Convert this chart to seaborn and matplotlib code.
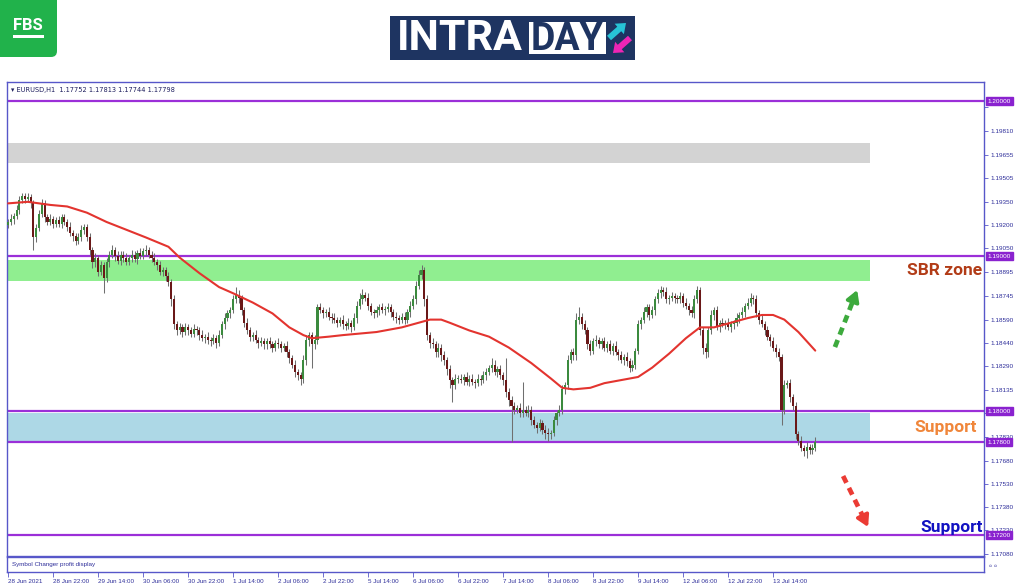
import numpy as np
import pandas as pd
import matplotlib
matplotlib.use("Agg")
import matplotlib.pyplot as plt
import matplotlib.transforms as mtransforms
from matplotlib.patches import Rectangle, FancyBboxPatch, FancyArrow
import seaborn as sns

# ---------------- data (EURUSD H1) ----------------
first_open = 1.1920
closes = [
    1.1922, 1.1924, 1.1926, 1.1930, 1.1936, 1.1939, 1.1937, 1.1938, 1.1934, 1.1912, 1.1918, 1.1927,
    1.1934, 1.1925, 1.1922, 1.1924, 1.1921, 1.1923, 1.1921, 1.1925, 1.1922, 1.1919, 1.1915, 1.1913,
    1.1910, 1.1912, 1.1917, 1.1919, 1.1912, 1.1904, 1.1896, 1.1899, 1.1890, 1.1894, 1.1886, 1.1896,
    1.1901, 1.1904, 1.1900, 1.1897, 1.1901, 1.1899, 1.1896, 1.1899, 1.1901, 1.1898, 1.1902, 1.1900,
    1.1903, 1.1904, 1.1901, 1.1899, 1.1896, 1.1894, 1.1890, 1.1891, 1.1887, 1.1883, 1.1872, 1.1856,
    1.1852, 1.1854, 1.1851, 1.1854, 1.1852, 1.1850, 1.1853, 1.1852, 1.1849, 1.1847, 1.1848, 1.1846,
    1.1845, 1.1847, 1.1844, 1.1849, 1.1856, 1.1860, 1.1863, 1.1865, 1.1872, 1.1875, 1.1873, 1.1865,
    1.1857, 1.1852, 1.1848, 1.1849, 1.1846, 1.1844, 1.1845, 1.1843, 1.1845, 1.1843, 1.1841, 1.1844,
    1.1843, 1.1841, 1.1842, 1.1838, 1.1834, 1.1830, 1.1825, 1.1823, 1.1821, 1.1833, 1.1846, 1.1849,
    1.1843, 1.1846, 1.1867, 1.1865, 1.1863, 1.1864, 1.1861, 1.1860, 1.1859, 1.1857, 1.1859, 1.1856,
    1.1855, 1.1857, 1.1854, 1.1860, 1.1868, 1.1872, 1.1875, 1.1873, 1.1868, 1.1864, 1.1863, 1.1865,
    1.1867, 1.1865, 1.1866, 1.1867, 1.1864, 1.1861, 1.1860, 1.1859, 1.1861, 1.1859, 1.1864, 1.1868,
    1.1872, 1.1881, 1.1888, 1.1891, 1.1872, 1.1849, 1.1844, 1.1843, 1.1838, 1.1841, 1.1836, 1.1833,
    1.1827, 1.1820, 1.1817, 1.1821, 1.1821, 1.1820, 1.1822, 1.1819, 1.1821, 1.1819, 1.1818, 1.1821,
    1.1820, 1.1823, 1.1825, 1.1828, 1.1830, 1.1825, 1.1827, 1.1823, 1.1820, 1.1812, 1.1807, 1.1803,
    1.1801, 1.1802, 1.1799, 1.1801, 1.1799, 1.1801, 1.1794, 1.1791, 1.1789, 1.1792, 1.1788, 1.1786,
    1.1785, 1.1786, 1.1794, 1.1799, 1.1801, 1.1814, 1.1817, 1.1833, 1.1838, 1.1836, 1.1859, 1.1861,
    1.1856, 1.1852, 1.1843, 1.1839, 1.1845, 1.1846, 1.1843, 1.1845, 1.1841, 1.1843, 1.1839, 1.1842,
    1.1838, 1.1836, 1.1833, 1.1835, 1.1832, 1.1828, 1.1830, 1.1839, 1.1856, 1.1859, 1.1864, 1.1867,
    1.1862, 1.1865, 1.1872, 1.1876, 1.1878, 1.1877, 1.1872, 1.1873, 1.1874, 1.1873, 1.1872, 1.1874,
    1.1870, 1.1868, 1.1865, 1.1863, 1.1872, 1.1878, 1.1852, 1.1841, 1.1838, 1.1852, 1.1862, 1.1865,
    1.1854, 1.1857, 1.1856, 1.1857, 1.1854, 1.1856, 1.1857, 1.1860, 1.1862, 1.1864, 1.1868, 1.1870,
    1.1873, 1.1872, 1.1863, 1.1859, 1.1856, 1.1852, 1.1848, 1.1845, 1.1841, 1.1838, 1.1835, 1.1801,
    1.1817, 1.1818, 1.1809, 1.1803, 1.1785, 1.1781, 1.1776, 1.1774, 1.1777, 1.1775, 1.1776, 1.1780,
]
upper_wick_pips = [
    2, 3, 2, 3, 3, 2, 2, 3, 2, 2, 3, 3,   3, 2, 2, 3, 2, 2, 3, 2, 2, 2, 3, 2,
    2, 3, 3, 2, 2, 3, 2, 3, 2, 3, 2, 3,   2, 3, 2, 3, 2, 2, 3, 2, 3, 2, 2, 3,
    2, 3, 2, 2, 3, 2, 3, 2, 2, 3, 2, 3,   2, 3, 2, 3, 2, 2, 3, 2, 2, 3, 2, 3,
    2, 3, 2, 3, 2, 3, 2, 2, 3, 5, 3, 2,   2, 3, 2, 2, 3, 2, 3, 2, 2, 3, 2, 2,
    3, 2, 2, 3, 2, 2, 3, 2, 2, 3, 3, 2,   2, 3, 2, 3, 2, 2, 3, 2, 3, 2, 2, 3,
    2, 3, 2, 3, 3, 4, 4, 2, 3, 2, 2, 3,   2, 3, 2, 3, 2, 2, 3, 2, 2, 3, 2, 3,
    3, 3, 3, 3, 2, 3, 2, 3, 2, 3, 2, 3,   2, 3, 2, 3, 2, 3, 2, 3, 2, 3, 2, 3,
    2, 3, 3, 2, 4, 3, 2, 3, 2, 14, 3, 3,  3, 2, 3, 18, 2, 3, 2, 3, 2, 3, 2, 3,
    3, 2, 3, 2, 3, 3, 2, 3, 2, 3, 4, 6,   2, 3, 2, 3, 2, 3, 2, 2, 3, 2, 3, 2,
    3, 2, 3, 2, 3, 2, 3, 2, 3, 2, 3, 2,   2, 3, 2, 3, 3, 2, 3, 2, 3, 2, 2, 3,
    2, 3, 2, 3, 3, 3, 2, 2, 3, 2, 3, 2,   3, 2, 3, 2, 3, 2, 2, 3, 2, 3, 2, 3,
    3, 2, 3, 2, 3, 2, 3, 2, 3, 2, 3, 2,   3, 2, 3, 2, 3, 2, 3, 2, 3, 2, 3, 3,
]
lower_wick_pips = [
    2, 2, 3, 2, 3, 2, 3, 2, 3, 8, 3, 2,   2, 3, 2, 2, 3, 2, 2, 3, 2, 3, 2, 3,
    3, 2, 2, 3, 2, 3, 4, 3, 3, 2, 10, 3,  3, 2, 3, 2, 3, 3, 2, 2, 3, 2, 3, 2,
    2, 3, 2, 3, 2, 3, 2, 3, 3, 2, 4, 3,   3, 2, 3, 2, 3, 2, 2, 3, 3, 2, 3, 3,
    3, 2, 3, 2, 2, 3, 2, 3, 2, 2, 3, 3,   3, 2, 3, 3, 2, 3, 2, 3, 3, 2, 3, 2,
    2, 3, 2, 3, 3, 2, 3, 3, 4, 3, 3, 4,   15, 3, 3, 2, 3, 2, 2, 3, 2, 3, 2, 3,
    3, 2, 3, 2, 3, 2, 3, 2, 3, 2, 3, 2,   3, 2, 3, 2, 3, 2, 3, 3, 2, 3, 2, 3,
    2, 3, 2, 3, 4, 3, 3, 2, 3, 3, 4, 3,   4, 5, 11, 3, 3, 2, 3, 2, 3, 2, 3, 2,
    3, 2, 3, 2, 3, 2, 3, 2, 3, 3, 4, 23,  3, 2, 3, 3, 2, 3, 3, 2, 3, 2, 3, 4,
    4, 3, 2, 3, 2, 3, 3, 3, 2, 3, 3, 3,   3, 2, 3, 3, 2, 3, 2, 3, 2, 3, 2, 3,
    2, 3, 2, 3, 3, 3, 2, 3, 2, 3, 2, 3,   3, 2, 3, 2, 3, 3, 2, 3, 2, 3, 2, 2,
    3, 2, 3, 2, 3, 2, 3, 4, 4, 3, 2, 3,   2, 3, 2, 3, 2, 3, 3, 2, 3, 2, 3, 2,
    2, 3, 2, 3, 2, 3, 2, 3, 2, 3, 3, 10,  3, 2, 3, 2, 3, 3, 2, 3, 4, 3, 3, 2,
]
ma_bars = [0, 7, 15, 21, 28, 35, 42, 49, 57, 61, 68, 75, 80, 87, 94, 100, 105, 108, 114, 119,
           131, 140, 146, 150, 154, 157, 164, 171, 178, 186, 193, 197, 201, 207, 212, 218, 224,
           229, 235, 241, 246, 251, 257, 263, 268, 272, 276, 281, 287]
ma_values = [1.1934, 1.1935, 1.1933, 1.1932, 1.1928, 1.1922, 1.1917, 1.1912, 1.1906, 1.1899,
             1.1889, 1.1880, 1.1876, 1.1870, 1.1863, 1.1854, 1.1849, 1.1847, 1.1848, 1.1849,
             1.1851, 1.1854, 1.1857, 1.1859, 1.1859, 1.1857, 1.1852, 1.1848, 1.1841, 1.1831,
             1.1821, 1.1815, 1.1814, 1.1815, 1.1818, 1.1820, 1.1822, 1.1828, 1.1837, 1.1847,
             1.1854, 1.1854, 1.1857, 1.1860, 1.1862, 1.1862, 1.1859, 1.1851, 1.1839]

price_ticks = [1.19960, 1.19810, 1.19655, 1.19505, 1.19350, 1.19200, 1.19050, 1.18895, 1.18745,
               1.18590, 1.18440, 1.18290, 1.18135, 1.17985, 1.17830, 1.17680, 1.17530, 1.17380,
               1.17230, 1.17080]
hidden_ticks = [1.19960, 1.17985]   # labels covered by the level boxes
level_prices = [1.20000, 1.19000, 1.18000, 1.17800, 1.17200]
level_labels = ["1.20000", "1.19000", "1.18000", "1.17800", "1.17200"]
zone_gray = (1.19600, 1.19729)
zone_green = (1.18839, 1.18974)
zone_blue = (1.17806, 1.17987)
zone_end_bar = 306.5
time_tick_bars = [0, 16, 32, 48, 64, 80, 96, 112, 128, 144, 160, 176, 192, 208, 224, 240, 256, 272]
time_labels = ["28 Jun 2021", "28 Jun 22:00", "29 Jun 14:00", "30 Jun 06:00", "30 Jun 22:00",
               "1 Jul 14:00", "2 Jul 06:00", "2 Jul 22:00", "5 Jul 14:00", "6 Jul 06:00",
               "6 Jul 22:00", "7 Jul 14:00", "8 Jul 06:00", "8 Jul 22:00", "9 Jul 14:00",
               "12 Jul 06:00", "12 Jul 22:00", "13 Jul 14:00"]
header = "\u25be EURUSD,H1  1.17752 1.17813 1.17744 1.17798"
arrow_up = ((294.0, 1.18413), (301.9, 1.18781))
arrow_down = ((296.9, 1.17581), (305.8, 1.17252))

# ---------------- build candles ----------------
pip = 0.0001
df = pd.DataFrame({"close": closes})
df["bar"] = np.arange(len(df))
df["open"] = [first_open] + closes[:-1]
df["high"] = df[["open", "close"]].max(axis=1) + np.array(upper_wick_pips) * pip
df["low"] = df[["open", "close"]].min(axis=1) - np.array(lower_wick_pips) * pip
df["up"] = df["close"] >= df["open"]

# ---------------- figure ----------------
sns.set_theme(style="white")
plt.rcParams["font.family"] = ["Liberation Sans", "DejaVu Sans"]
W, H = 1024, 587
fig = plt.figure(figsize=(W / 100, H / 100), dpi=100)
fig.patch.set_facecolor("white")

frame_c = "#5757C9"
text_c = "#2E2E9A"
lvl_c = "#9B2FD8"

ax = fig.add_axes([7 / W, 1 - 556 / H, 977 / W, 474 / H])
sub = fig.add_axes([7 / W, 1 - 572 / H, 977 / W, 15 / H])
ov = fig.add_axes([0, 0, 1, 1], zorder=-5)
ov.set_xlim(0, W)
ov.set_ylim(H, 0)
ov.axis("off")

xlim = (-0.4, 347.0)
ax.set_xlim(*xlim)
ax.set_ylim(1.17065, 1.20123)
ax.set_facecolor("white")

# zones
for (lo, hi), col in [(zone_gray, "#D3D3D3"), (zone_green, "#90EE90"), (zone_blue, "#ADD8E6")]:
    ax.add_patch(Rectangle((xlim[0], lo), zone_end_bar - xlim[0], hi - lo,
                           facecolor=col, edgecolor="none", zorder=1))

# level lines
for p in level_prices:
    ax.axhline(p, color=lvl_c, lw=1.6, zorder=2)

# candles
ax.vlines(df["bar"], df["low"], df["high"], color="#6f6f6f", lw=0.75, zorder=3)
body_bottom = df[["open", "close"]].min(axis=1)
body_h = (df["close"] - df["open"]).abs().clip(lower=0.00003)
ax.bar(df["bar"], body_h, bottom=body_bottom, width=0.75,
       color=np.where(df["up"], "#3B8A3E", "#6A1818"), linewidth=0, zorder=4)

# moving average
sns.lineplot(x=ma_bars, y=ma_values, ax=ax, color="#E3342F", linewidth=1.5, zorder=5)

# arrows (dashed shaft + chevron head)
for (s, e), col in [(arrow_up, "#3DAA3D"), (arrow_down, "#EB3B34")]:
    sx, sy = s
    ex, ey = e
    mx, my = sx + (ex - sx) * 0.80, sy + (ey - sy) * 0.80
    ax.plot([sx, mx], [sy, my], color=col, lw=3.4, dashes=(1.6, 1.2), solid_capstyle="butt",
            zorder=6)
    ax.annotate("", xy=(ex, ey), xytext=(mx, my),
                arrowprops=dict(arrowstyle="-|>,head_length=0.55,head_width=0.32", color=col,
                                lw=2.6, shrinkA=0, shrinkB=0), zorder=6)

# annotations text
ax.text(333.0, 1.18910, "SBR zone", color="#B23C17", fontsize=12.5, fontweight="bold",
        family="Roboto", ha="center", va="center", zorder=7)
ax.text(333.5, 1.17897, "Support", color="#F0863A", fontsize=12.5, fontweight="bold",
        family="Roboto", ha="center", va="center", zorder=7)
ax.text(335.6, 1.17252, "Support", color="#1212C2", fontsize=12.5, fontweight="bold",
        family="Roboto", ha="center", va="center", zorder=7)

ax.text(0.004, 0.984, header, transform=ax.transAxes, fontsize=4.8, color="#1f1f5f",
        ha="left", va="center", family=["DejaVu Sans"])

# axes styling
ax.set_xticks([])
ax.yaxis.tick_right()
ax.set_yticks(price_ticks)
ax.set_yticklabels(["" if v in hidden_ticks else f"{v:.5f}" for v in price_ticks])
ax.tick_params(axis="y", right=True, length=3, width=0.6, color=frame_c, labelsize=4.6,
               labelcolor=text_c, pad=2)
for sp in ax.spines.values():
    sp.set_color(frame_c)
    sp.set_linewidth(1.0)
ax.set_xlabel("")
ax.set_ylabel("")

blend = mtransforms.blended_transform_factory(ax.transAxes, ax.transData)
for p, lab in zip(level_prices, level_labels):
    ax.text(1.0035, p, lab, transform=blend, fontsize=4.6, color="white", ha="left",
            va="center", clip_on=False, zorder=10,
            bbox=dict(boxstyle="square,pad=0.28", fc="#8A22CF", ec="#8A22CF"))

# sub window
sub.set_xlim(*xlim)
sub.set_ylim(0, 1)
sub.set_yticks([])
sub.set_xticks(time_tick_bars)
sub.set_xticklabels(time_labels, ha="left")
sub.tick_params(axis="x", bottom=True, length=3.5, width=0.6, color=frame_c, labelsize=4.5,
                labelcolor=text_c, pad=1.5)
for sp in sub.spines.values():
    sp.set_color(frame_c)
    sp.set_linewidth(1.0)
sub.text(0.005, 0.5, "Symbol Changer profit display", transform=sub.transAxes, fontsize=4.5,
         color=text_c, va="center", ha="left")
sub.text(1.006, 0.5, "0\n0", transform=sub.transAxes, fontsize=3.2, color=text_c,
         va="center", ha="left", rotation=90, clip_on=False)

# ---------------- logos ----------------
ov.add_patch(FancyBboxPatch((-8, -8), 65, 65, boxstyle="round,pad=0,rounding_size=6",
                            fc="#21B24B", ec="none"))
ov.text(28, 25, "FBS", color="white", fontsize=12, fontweight="bold", ha="center",
        va="center", family="Roboto")
ov.add_patch(Rectangle((13, 35), 31, 2.6, fc="white", ec="none"))

ov.add_patch(Rectangle((390, 16), 245, 44, fc="#1E3461", ec="none"))
ov.text(397, 39, "INTRA", color="white", fontsize=31, fontweight="bold", ha="left",
        va="center", family="Roboto")
ov.add_patch(Rectangle((529, 22), 77, 32, fc="white", ec="none"))
ov.text(567.5, 39, "DAY", color="#1E3461", fontsize=27, fontweight="bold", ha="center",
        va="center", family="Roboto")
ov.add_patch(FancyArrow(609, 38, 17, -15, width=6, head_width=14, head_length=9,
                        length_includes_head=True, fc="#27C3D6", ec="none"))
ov.add_patch(FancyArrow(630, 38, -17, 15, width=6, head_width=14, head_length=9,
                        length_includes_head=True, fc="#EE25B5", ec="none"))

fig.savefig("out.png", dpi=100, facecolor="white")
